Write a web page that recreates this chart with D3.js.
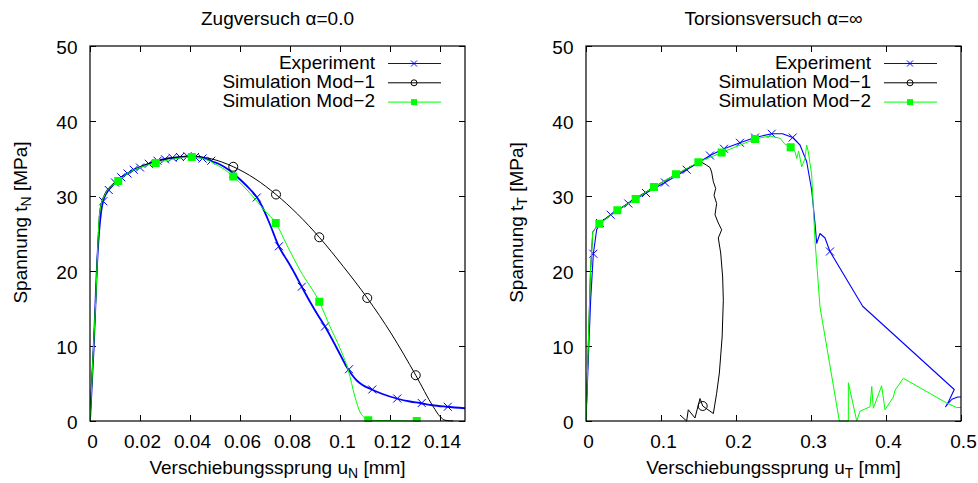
<!DOCTYPE html>
<html>
<head>
<meta charset="utf-8">
<script src="https://cdn.jsdelivr.net/npm/d3@7"></script>
<style>
  body { margin: 0; background: #fff; }
  text { font-family: "Liberation Sans", Arial, Helvetica, sans-serif; }
</style>
</head>
<body>
<div id="chart"></div>
<script>
// ---- Zugversuch (left panel) ----
var zugExpX = [0, 0.0015, 0.003, 0.0045, 0.0055, 0.007, 0.009, 0.011, 0.013, 0.015, 0.017, 0.019, 0.022, 0.025, 0.028, 0.031, 0.034, 0.037, 0.040, 0.043, 0.046, 0.049, 0.052, 0.055, 0.058, 0.061, 0.064, 0.067, 0.069, 0.071, 0.0725, 0.074, 0.0755, 0.077, 0.0787, 0.081, 0.0847, 0.088, 0.091, 0.094, 0.097, 0.100, 0.1027, 0.1047, 0.1067, 0.109, 0.1127, 0.117, 0.1227, 0.128, 0.132, 0.137, 0.1427, 0.15];
var zugExpY = [0, 10, 22, 28, 29.6, 30.6, 31.4, 32.1, 32.6, 33.0, 33.4, 33.7, 34.1, 34.5, 34.8, 35.0, 35.1, 35.2, 35.3, 35.2, 35.0, 34.6, 34.2, 33.6, 32.8, 31.9, 30.9, 29.7, 28.5, 27.0, 25.8, 24.5, 23.3, 22.4, 21.5, 20.2, 17.9, 15.9, 14.2, 12.6, 10.8, 8.9, 7.2, 6.2, 5.4, 4.8, 4.2, 3.6, 3.0, 2.6, 2.4, 2.1, 1.9, 1.7];
var zugExpMarkX = [0.0053, 0.0075, 0.010, 0.0125, 0.015, 0.0175, 0.020, 0.0235, 0.027, 0.030, 0.033, 0.036, 0.039, 0.042, 0.045, 0.0485, 0.0573, 0.0667, 0.0756, 0.0847, 0.094, 0.1036, 0.1129, 0.1229, 0.1327, 0.1431];
var zugExpMarkY = [29.3, 30.8, 31.8, 32.5, 33.0, 33.5, 33.8, 34.3, 34.7, 34.9, 35.1, 35.2, 35.3, 35.2, 35.0, 34.7, 33.0, 29.8, 23.3, 17.9, 12.6, 6.9, 4.2, 3.0, 2.4, 1.9];

var zugMod1X = [0, 0.002, 0.004, 0.006, 0.0085, 0.0113, 0.015, 0.02, 0.0263, 0.033, 0.0407, 0.048, 0.0573, 0.066, 0.0744, 0.083, 0.0917, 0.1013, 0.1109, 0.1206, 0.1303, 0.1373, 0.14, 0.142, 0.1453];
var zugMod1Y = [0, 14, 28.2, 30.3, 31.4, 32.1, 33.0, 33.9, 34.6, 35.1, 35.3, 35.0, 33.9, 32.3, 30.2, 27.6, 24.5, 20.6, 16.4, 11.6, 6.1, 1.9, 0.6, 0.1, 0];
var zugMod1MarkX = [0.0573, 0.0744, 0.0917, 0.1109, 0.1303];
var zugMod1MarkY = [33.9, 30.2, 24.5, 16.4, 6.1];

var zugMod2X = [0, 0.002, 0.004, 0.006, 0.0085, 0.0113, 0.015, 0.02, 0.0263, 0.033, 0.0407, 0.045, 0.05, 0.0573, 0.062, 0.066, 0.07, 0.0743, 0.0787, 0.084, 0.0917, 0.096, 0.1, 0.1033, 0.106, 0.108, 0.11, 0.1113, 0.12, 0.1307];
var zugMod2Y = [0, 14, 28.1, 30.2, 31.3, 32.0, 33.0, 33.8, 34.4, 34.9, 35.2, 35.0, 34.3, 32.6, 31.1, 29.6, 28.0, 26.4, 23.5, 20.1, 15.9, 12.6, 9.7, 6.8, 3.2, 1.2, 0.4, 0.1, 0.05, 0];
var zugMod2MarkX = [0.0113, 0.0263, 0.0407, 0.0573, 0.0743, 0.0917, 0.1113, 0.1307];
var zugMod2MarkY = [32.0, 34.4, 35.2, 32.6, 26.4, 15.9, 0.1, 0];

// ---- Torsionsversuch (right panel) ----
var torExpX = [0, 0.003, 0.0062, 0.0098, 0.0142, 0.0187, 0.0329, 0.0564, 0.08, 0.1053, 0.1342, 0.1653, 0.184, 0.2053, 0.2253, 0.2476, 0.262, 0.2756, 0.2853, 0.2942, 0.3009, 0.3053, 0.3076, 0.312, 0.3187, 0.3253, 0.3689, 0.491, 0.4835, 0.4795, 0.4825, 0.488, 0.4955, 0.5];
var torExpY = [0, 8, 16.1, 22.3, 25.5, 26.4, 27.5, 29.0, 30.4, 31.8, 33.5, 35.4, 36.3, 37.1, 37.8, 38.3, 38.3, 37.8, 36.8, 34.6, 30.8, 26.4, 23.7, 25.0, 24.4, 22.6, 15.3, 4.2, 2.6, 1.9, 2.3, 2.9, 3.2, 3.2];
var torExpMarkX = [0.0098, 0.0187, 0.0329, 0.0564, 0.08, 0.1053, 0.1342, 0.1653, 0.184, 0.2053, 0.2253, 0.2476, 0.2756, 0.3253];
var torExpMarkY = [22.3, 26.4, 27.5, 29.0, 30.4, 31.8, 33.5, 35.4, 36.3, 37.1, 37.8, 38.3, 37.8, 22.6];

var torMod1X = [0, 0.003, 0.006, 0.009, 0.0178, 0.0418, 0.0662, 0.0907, 0.12, 0.1498, 0.1542, 0.1609, 0.1653, 0.1675, 0.1698, 0.1729, 0.1707, 0.1742, 0.172, 0.1764, 0.1809, 0.1764, 0.1796, 0.1822, 0.1831, 0.1815, 0.1778, 0.1742, 0.1698, 0.1556, 0.152, 0.1453, 0.1364, 0.1342, 0.1253];
var torMod1Y = [0, 10, 20, 25.2, 26.4, 28.1, 29.7, 31.2, 32.9, 34.4, 34.5, 34.1, 33.8, 33.2, 31.9, 31.0, 30.1, 29.0, 27.5, 26.4, 25.5, 24.4, 22.4, 19.2, 16.1, 11.2, 6.4, 3.7, 1.0, 2.0, 3.0, 0.4, 1.5, 0, 0.8];
var torMod1MarkX = [0.1556];
var torMod1MarkY = [2.0];

var torMod2X = [0, 0.003, 0.006, 0.009, 0.0178, 0.0418, 0.0662, 0.0907, 0.12, 0.1498, 0.1809, 0.2253, 0.245, 0.2587, 0.2653, 0.2729, 0.2787, 0.281, 0.2835, 0.2876, 0.292, 0.2942, 0.2964, 0.3009, 0.3053, 0.312, 0.3378, 0.3498, 0.3498, 0.361, 0.3653, 0.3787, 0.381, 0.3831, 0.3942, 0.3987, 0.4098, 0.412, 0.4231, 0.4809, 0.4942, 0.5];
var torMod2Y = [0, 10, 20, 25.2, 26.3, 28.1, 29.6, 31.2, 32.9, 34.5, 35.8, 37.6, 38.0, 37.7, 36.9, 36.5, 35.9, 35.0, 36.0, 33.9, 35.0, 36.8, 35.9, 32.8, 24.1, 15.2, 0, 0, 5.1, 0, 1.3, 1.9, 4.6, 1.7, 4.7, 1.5, 3.2, 4.1, 5.7, 2.4, 1.8, 1.8];
var torMod2MarkX = [0.0178, 0.0418, 0.0662, 0.0907, 0.12, 0.1498, 0.1809, 0.2253, 0.2729];
var torMod2MarkY = [26.3, 28.1, 29.6, 31.2, 32.9, 34.5, 35.8, 37.6, 36.5];

// ticks and labels
var zugXTicks = [0, 0.02, 0.04, 0.06, 0.08, 0.1, 0.12, 0.14];
var torXTicks = [0, 0.1, 0.2, 0.3, 0.4, 0.5];
var yTicks = [0, 10, 20, 30, 40, 50];
var seriesNames = ["Experiment", "Simulation Mod\u22121", "Simulation Mod\u22122"];

var svgWidth = 978, svgHeight = 483;
var fontSize = 19;
var svg = d3.select('#chart').append("svg")
  .attr("width", svgWidth)
  .attr("height", svgHeight)
  .style("background", "#fff");

function zip(xs, ys) {
  return xs.map(function(x, i) { return { x: x, y: ys[i] }; });
}

function crossPath(s) {
  return "M" + (-s) + "," + (-s) + "L" + s + "," + s + "M" + (-s) + "," + s + "L" + s + "," + (-s);
}

function drawMarkers(g, pts, type, x, y, size) {
  var sel = g.selectAll(null).data(pts).enter();
  if (type === "cross") {
    sel.append("path")
      .attr("d", crossPath(size))
      .attr("transform", function(d) { return "translate(" + x(d.x) + "," + y(d.y) + ")"; })
      .attr("stroke", "#0000ff").attr("stroke-width", 1).attr("fill", "none");
  } else if (type === "circle") {
    sel.append("circle")
      .attr("cx", function(d) { return x(d.x); })
      .attr("cy", function(d) { return y(d.y); })
      .attr("r", size)
      .attr("stroke", "#000").attr("stroke-width", 1).attr("fill", "none");
  } else {
    sel.append("rect")
      .attr("x", function(d) { return x(d.x) - size; })
      .attr("y", function(d) { return y(d.y) - size; })
      .attr("width", size * 2).attr("height", size * 2)
      .attr("fill", "#00ff00");
  }
}

function drawPanel(cfg) {
  var left = cfg.left, top = 46, width = 375, height = 375;
  var g = svg.append("g").attr("transform", "translate(" + left + "," + top + ")");
  var x = d3.scaleLinear().domain(cfg.xDomain).range([0, width]);
  var y = d3.scaleLinear().domain([0, 50]).range([height, 0]);

  var clipId = "clip" + cfg.id;
  g.append("clipPath").attr("id", clipId)
    .append("rect").attr("x", 0).attr("y", -1).attr("width", width).attr("height", height + 2);

  // axes with inward ticks on all four sides
  var xb = g.append("g").attr("transform", "translate(0," + height + ")")
    .call(d3.axisBottom(x).tickValues(cfg.xTicks).tickSizeInner(-6).tickSizeOuter(0).tickFormat(function(d) { return String(d); }));
  xb.selectAll("text").attr("y", 26.7).attr("dy", null).attr("dx", 2);
  var xt = g.append("g")
    .call(d3.axisTop(x).tickValues(cfg.xTicks).tickSizeInner(-6).tickSizeOuter(0).tickFormat(""));
  var yl = g.append("g")
    .call(d3.axisLeft(y).tickValues(yTicks).tickSizeInner(-6).tickSizeOuter(0));
  yl.selectAll("text").attr("x", -12.5).attr("dy", "0.38em");
  var yr = g.append("g").attr("transform", "translate(" + width + ",0)")
    .call(d3.axisRight(y).tickValues(yTicks).tickSizeInner(-6).tickSizeOuter(0).tickFormat(""));
  [xb, xt, yl, yr].forEach(function(a) {
    a.select(".domain").remove();
    a.selectAll("line").attr("stroke", "#000").attr("stroke-width", 1);
    a.selectAll("text").attr("font-size", fontSize).attr("fill", "#000")
      .style("font-family", '"Liberation Sans", Arial, sans-serif');
  });

  // series
  var plot = g.append("g").attr("clip-path", "url(#" + clipId + ")");
  var line = d3.line()
    .x(function(d) { return x(d.x); })
    .y(function(d) { return y(d.y); })
    .curve(cfg.curve);

  plot.append("path").datum(zip(cfg.expX, cfg.expY))
    .attr("fill", "none").attr("stroke", "#0000ff").attr("stroke-width", cfg.expWidth)
    .attr("stroke-linejoin", "round").attr("d", line);
  drawMarkers(plot, zip(cfg.expMarkX, cfg.expMarkY), "cross", x, y, 4);

  plot.append("path").datum(zip(cfg.mod1X, cfg.mod1Y))
    .attr("fill", "none").attr("stroke", "#000").attr("stroke-width", 1)
    .attr("stroke-linejoin", "round").attr("d", line);
  drawMarkers(plot, zip(cfg.mod1MarkX, cfg.mod1MarkY), "circle", x, y, 4.5);

  plot.append("path").datum(zip(cfg.mod2X, cfg.mod2Y))
    .attr("fill", "none").attr("stroke", "#00ff00").attr("stroke-width", 1)
    .attr("stroke-linejoin", "round").attr("d", line);
  drawMarkers(plot, zip(cfg.mod2MarkX, cfg.mod2MarkY), "square", x, y, 4);

  // frame
  g.append("rect").attr("width", width).attr("height", height)
    .attr("fill", "none").attr("stroke", "#000").attr("stroke-width", 1.2);

  // legend
  var colors = ["#0000ff", "#000", "#00ff00"];
  var types = ["cross", "circle", "square"];
  var sizes = [3, 3, 3];
  seriesNames.forEach(function(name, i) {
    var ly = 17.5 + i * 19.3;
    g.append("text").attr("x", width - 90).attr("y", ly + 5.2)
      .attr("text-anchor", "end").attr("font-size", fontSize).text(name);
    g.append("line").attr("x1", width - 77).attr("x2", width - 24)
      .attr("y1", ly).attr("y2", ly).attr("stroke", colors[i]).attr("stroke-width", 1);
    var lg = g.append("g");
    drawMarkers(lg, [{ x: 0, y: 0 }], types[i],
      function() { return width - 51; }, function() { return ly; }, sizes[i]);
  });

  // titles
  svg.append("text").attr("x", left + width / 2).attr("y", 24.5)
    .attr("text-anchor", "middle").attr("font-size", fontSize).text(cfg.title);

  var xl = svg.append("text").attr("x", left + width / 2).attr("y", 474)
    .attr("text-anchor", "middle").attr("font-size", fontSize);
  xl.append("tspan").text("Verschiebungssprung u");
  xl.append("tspan").attr("font-size", 14).attr("dy", 4).text(cfg.sub);
  xl.append("tspan").attr("dy", -4).text(" [mm]");

  var ylab = svg.append("text")
    .attr("transform", "translate(" + (left - 63) + ",222.5) rotate(-90)")
    .attr("text-anchor", "middle").attr("font-size", fontSize);
  ylab.append("tspan").text("Spannung t");
  ylab.append("tspan").attr("font-size", 14).attr("dy", 4).text(cfg.sub);
  ylab.append("tspan").attr("dy", -4).text(" [MPa]");
}

drawPanel({
  id: "zug", left: 90, xDomain: [0, 0.15], xTicks: zugXTicks,
  title: "Zugversuch \u03b1=0.0", sub: "N", curve: d3.curveMonotoneX, expWidth: 1.8,
  expX: zugExpX, expY: zugExpY, expMarkX: zugExpMarkX, expMarkY: zugExpMarkY,
  mod1X: zugMod1X, mod1Y: zugMod1Y, mod1MarkX: zugMod1MarkX, mod1MarkY: zugMod1MarkY,
  mod2X: zugMod2X, mod2Y: zugMod2Y, mod2MarkX: zugMod2MarkX, mod2MarkY: zugMod2MarkY
});
drawPanel({
  id: "tor", left: 586, xDomain: [0, 0.5], xTicks: torXTicks,
  title: "Torsionsversuch \u03b1=\u221e", sub: "T", curve: d3.curveLinear, expWidth: 1.1,
  expX: torExpX, expY: torExpY, expMarkX: torExpMarkX, expMarkY: torExpMarkY,
  mod1X: torMod1X, mod1Y: torMod1Y, mod1MarkX: torMod1MarkX, mod1MarkY: torMod1MarkY,
  mod2X: torMod2X, mod2Y: torMod2Y, mod2MarkX: torMod2MarkX, mod2MarkY: torMod2MarkY
});
</script>
</body>
</html>
